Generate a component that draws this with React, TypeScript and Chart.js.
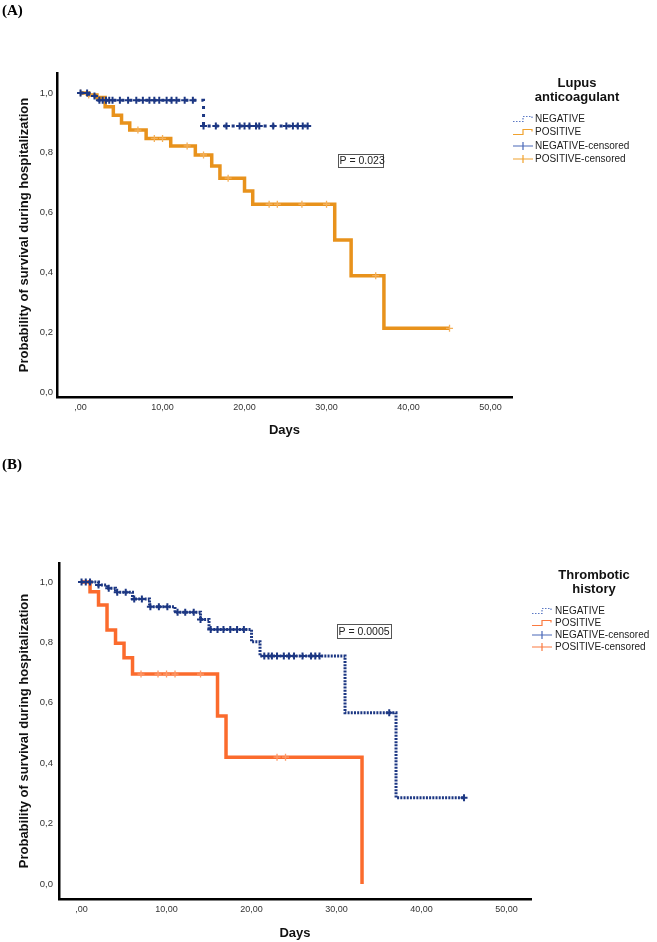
import React, { useEffect, useRef } from 'react';
import { Chart, registerables } from 'chart.js';

Chart.register(...registerables);

// ---------- shared ticks ----------
const xTickValues = [0, 10, 20, 30, 40, 50];
const yTickValues = [0, 0.2, 0.4, 0.6, 0.8, 1.0];

// ---------- Panel A: Lupus anticoagulant ----------
const negA_days = [0, 1, 2, 15, 28];
const negA_surv = [1.0, 0.99, 0.976, 0.89, 0.89];
const negA_censor = [0, 0.8, 1.7, 2.3, 2.7, 3.1, 3.5, 3.9, 4.8, 5.8, 6.8, 7.6, 8.4, 9.0, 9.6, 10.5, 11.1, 11.7, 12.7, 13.7,
  15, 16.5, 17.8, 19.4, 20, 20.6, 21.4, 21.8, 23.5, 25.1, 25.9, 26.5, 27.1, 27.7];
const posA_days = [0, 1, 2, 3, 4, 5, 6, 8, 11, 14, 16, 17, 20, 21, 31, 33, 37, 45];
const posA_surv = [1.0, 0.993, 0.985, 0.954, 0.926, 0.9, 0.876, 0.848, 0.823, 0.793, 0.756, 0.715, 0.672, 0.628, 0.508, 0.389, 0.213, 0.213];
const posA_censor = [0, 1, 7, 9, 10, 13, 15, 18, 23, 24, 27, 30, 36, 45];

// ---------- Panel B: Thrombotic history ----------
const negB_days = [0, 2, 3, 4, 6, 8, 11, 14, 15, 20, 21, 31, 37, 45];
const negB_surv = [1.0, 0.99, 0.979, 0.966, 0.944, 0.918, 0.9, 0.876, 0.843, 0.802, 0.755, 0.567, 0.286, 0.286];
const negB_censor = [0, 0.5, 1, 2, 3.2, 4.2, 5.2, 6.2, 7.1, 8.1, 9.1, 10.1, 11.3, 12.2, 13.2, 14,
  15.2, 16, 16.7, 17.5, 18.3, 19.1, 21.5, 22, 22.4, 23, 23.8, 24.4, 25, 26, 27, 27.5, 28, 36.2, 45];
const posB_days = [0, 1, 2, 3, 4, 5, 6, 16, 17, 33];
const posB_surv = [1.0, 0.968, 0.924, 0.841, 0.797, 0.749, 0.695, 0.556, 0.42, 0];
const posB_censor = [7, 9, 10, 11, 14, 23, 24];

const legendLabels = ['NEGATIVE', 'POSITIVE', 'NEGATIVE-censored', 'POSITIVE-censored'];

// ---------- helpers ----------
function toPoints(days: number[], surv: number[]) {
  return days.map((d, i) => ({ x: d, y: surv[i] }));
}
function stepAt(days: number[], surv: number[], t: number) {
  let v = surv[0];
  for (let i = 0; i < days.length; i++) if (days[i] <= t) v = surv[i];
  return v;
}
function censorPoints(days: number[], surv: number[], times: number[]) {
  return times.map((t) => ({ x: t, y: stepAt(days, surv, t) }));
}

const FONT = '"Liberation Sans", Arial, Helvetica, sans-serif';
const NAVY = '#1c3783';

interface PanelSpec {
  height: number;
  xMin: number; xMax: number; yMin: number; yMax: number;
  padTop: number; padRight: number; yWidth: number; xHeight: number;
  yTitlePadTop: number; yTickPad: number; xTickPad: number; xTitlePadBottom: number;
  negDays: number[]; negSurv: number[]; negCensor: number[];
  posDays: number[]; posSurv: number[]; posCensor: number[];
  negDash: number[]; negWidth: number;
  posColor: string; posCensorColor: string; posLegendColor: string; posWidth: number;
  legendTitle: string[]; legendTitleX: number; legendTitleY: number[];
  legendItemsY: number[]; legendSymX: number; legendTextX: number;
  pText: string; pBox: number[];
}

const panelA: PanelSpec = {
  height: 450,
  xMin: -2.87, xMax: 52.62, yMin: -0.0167, yMax: 1.0669,
  padTop: 73, padRight: 145, yWidth: 57, xHeight: 53,
  yTitlePadTop: 17, yTickPad: 4, xTickPad: 5.5, xTitlePadBottom: 12,
  negDays: negA_days, negSurv: negA_surv, negCensor: negA_censor,
  posDays: posA_days, posSurv: posA_surv, posCensor: posA_censor,
  negDash: [3, 5], negWidth: 3,
  posColor: '#e8921c', posCensorColor: '#f4b05a', posLegendColor: '#f0a22e', posWidth: 3.5,
  legendTitle: ['Lupus', 'anticoagulant'], legendTitleX: 577, legendTitleY: [83, 97],
  legendItemsY: [119, 132, 146, 159], legendSymX: 513, legendTextX: 535,
  pText: 'P = 0.023', pBox: [338, 154, 45, 13],
};

const panelB: PanelSpec = {
  height: 492,
  xMin: -2.65, xMax: 52.88, yMin: -0.0497, yMax: 1.063,
  padTop: 113, padRight: 126, yWidth: 59, xHeight: 43,
  yTitlePadTop: 17, yTickPad: 6, xTickPad: 5.6, xTitlePadBottom: 1.2,
  negDays: negB_days, negSurv: negB_surv, negCensor: negB_censor,
  posDays: posB_days, posSurv: posB_surv, posCensor: posB_censor,
  negDash: [2, 1.2], negWidth: 3,
  posColor: '#fb6b2d', posCensorColor: '#fd9a6a', posLegendColor: '#fb7a40', posWidth: 3.5,
  legendTitle: ['Thrombotic', 'history'], legendTitleX: 594, legendTitleY: [125, 139],
  legendItemsY: [161, 173, 185, 197], legendSymX: 532, legendTextX: 555,
  pText: 'P = 0.0005', pBox: [337, 174, 54, 14],
};

function makeLegendPlugin(p: PanelSpec) {
  return {
    id: 'kmLegend',
    afterDraw(chart: any) {
      const ctx: CanvasRenderingContext2D = chart.ctx;
      ctx.save();
      // legend title
      ctx.fillStyle = '#111';
      ctx.font = `bold 13px ${FONT}`;
      ctx.textAlign = 'center';
      ctx.textBaseline = 'middle';
      p.legendTitle.forEach((t, i) => ctx.fillText(t, p.legendTitleX, p.legendTitleY[i]));
      // items
      const x0 = p.legendSymX;
      const colors = [NAVY, p.posLegendColor, '#4a68b8', p.posLegendColor];
      p.legendItemsY.forEach((y, i) => {
        ctx.strokeStyle = i === 0 ? '#5b78c4' : colors[i];
        ctx.lineWidth = 1.2;
        if (i === 0) ctx.setLineDash([1.5, 1.5]); else ctx.setLineDash([]);
        ctx.beginPath();
        if (i < 2) {
          ctx.moveTo(x0, y + 2.5);
          ctx.lineTo(x0 + 10, y + 2.5);
          ctx.lineTo(x0 + 10, y - 2.5);
          ctx.lineTo(x0 + 19, y - 2.5);
          ctx.lineTo(x0 + 19, y - 0.5);
        } else {
          ctx.moveTo(x0, y);
          ctx.lineTo(x0 + 20, y);
          ctx.moveTo(x0 + 10, y - 4);
          ctx.lineTo(x0 + 10, y + 4);
        }
        ctx.stroke();
        ctx.setLineDash([]);
        ctx.fillStyle = '#222';
        ctx.font = `10px ${FONT}`;
        ctx.textAlign = 'left';
        ctx.textBaseline = 'middle';
        ctx.fillText(legendLabels[i], p.legendTextX, y);
      });
      // p-value box
      const [bx, by, bw, bh] = p.pBox;
      ctx.fillStyle = '#fff';
      ctx.fillRect(bx, by, bw, bh);
      ctx.strokeStyle = '#555';
      ctx.lineWidth = 1;
      ctx.strokeRect(bx + 0.5, by + 0.5, bw, bh);
      ctx.fillStyle = '#222';
      ctx.font = `10.5px ${FONT}`;
      ctx.textAlign = 'left';
      ctx.textBaseline = 'middle';
      ctx.fillText(p.pText, bx + 1.5, by + bh / 2 + 1);
      ctx.restore();
    },
  };
}

function makeConfig(p: PanelSpec): any {
  return {
    type: 'line',
    data: {
      datasets: [
        {
          label: legendLabels[0],
          data: toPoints(p.negDays, p.negSurv),
          borderColor: NAVY,
          borderWidth: p.negWidth,
          borderDash: p.negDash,
          borderCapStyle: 'butt',
          stepped: 'before',
          pointRadius: 0,
          fill: false,
          order: 1,
        },
        {
          label: legendLabels[1],
          data: toPoints(p.posDays, p.posSurv),
          borderColor: p.posColor,
          borderWidth: p.posWidth,
          stepped: 'before',
          pointRadius: 0,
          fill: false,
          order: 3,
        },
        {
          label: legendLabels[2],
          data: censorPoints(p.negDays, p.negSurv, p.negCensor),
          showLine: false,
          pointStyle: 'cross',
          pointRadius: 3.5,
          pointBorderWidth: 2,
          borderColor: NAVY,
          pointBorderColor: NAVY,
          order: 0,
        },
        {
          label: legendLabels[3],
          data: censorPoints(p.posDays, p.posSurv, p.posCensor),
          showLine: false,
          pointStyle: 'cross',
          pointRadius: 3.5,
          pointBorderWidth: 1.3,
          borderColor: p.posCensorColor,
          pointBorderColor: p.posCensorColor,
          order: 2,
        },
      ],
    },
    options: {
      animation: false,
      responsive: false,
      maintainAspectRatio: false,
      events: [],
      layout: { padding: { left: 0, top: p.padTop, right: p.padRight, bottom: 0 } },
      plugins: { legend: { display: false }, tooltip: { enabled: false } },
      scales: {
        x: {
          type: 'linear',
          min: p.xMin,
          max: p.xMax,
          afterFit: (s: any) => { s.height = p.xHeight; },
          afterBuildTicks: (s: any) => { s.ticks = xTickValues.map((v) => ({ value: v })); },
          grid: { display: false, drawTicks: false },
          border: { display: true, color: '#000', width: 2.5 },
          ticks: {
            padding: p.xTickPad,
            color: '#333',
            font: { family: FONT, size: 9 },
            maxRotation: 0,
            autoSkip: false,
            callback: (v: number) => (v === 0 ? ',00' : `${v},00`),
          },
          title: {
            display: true,
            text: 'Days',
            color: '#111',
            font: { family: FONT, size: 13, weight: 'bold' },
            padding: { top: 0, bottom: p.xTitlePadBottom },
          },
        },
        y: {
          type: 'linear',
          min: p.yMin,
          max: p.yMax,
          afterFit: (s: any) => { s.width = p.yWidth; },
          afterBuildTicks: (s: any) => { s.ticks = yTickValues.map((v) => ({ value: v })); },
          grid: { display: false, drawTicks: false },
          border: { display: true, color: '#000', width: 2.5 },
          ticks: {
            padding: p.yTickPad,
            color: '#333',
            font: { family: FONT, size: 9.5 },
            autoSkip: false,
            callback: (v: number) => v.toFixed(1).replace('.', ','),
          },
          title: {
            display: true,
            text: 'Probability of survival during hospitalization',
            color: '#111',
            font: { family: FONT, size: 13, weight: 'bold' },
            padding: { top: p.yTitlePadTop, bottom: 0 },
          },
        },
      },
    },
    plugins: [makeLegendPlugin(p)],
  };
}

function Panel({ spec, top }: { spec: PanelSpec; top: number }) {
  const ref = useRef<HTMLCanvasElement>(null);
  useEffect(() => {
    if (!ref.current) return;
    const chart = new Chart(ref.current, makeConfig(spec));
    return () => chart.destroy();
  }, [spec]);
  return (
    <canvas
      ref={ref}
      width={657}
      height={spec.height}
      style={{ position: 'absolute', left: 0, top, width: 657, height: spec.height, display: 'block' }}
    />
  );
}

const labelStyle: React.CSSProperties = {
  position: 'absolute',
  left: 2,
  font: 'bold 15px "Liberation Serif", "Times New Roman", serif',
  lineHeight: '17px',
  color: '#000',
  zIndex: 2,
};

export default function App() {
  return (
    <div style={{ position: 'absolute', left: 0, top: 0, width: 657, height: 942, background: '#fff', overflow: 'hidden' }}>
      <Panel spec={panelA} top={0} />
      <Panel spec={panelB} top={450} />
      <div style={{ ...labelStyle, top: 2 }}>(A)</div>
      <div style={{ ...labelStyle, top: 456 }}>(B)</div>
    </div>
  );
}
